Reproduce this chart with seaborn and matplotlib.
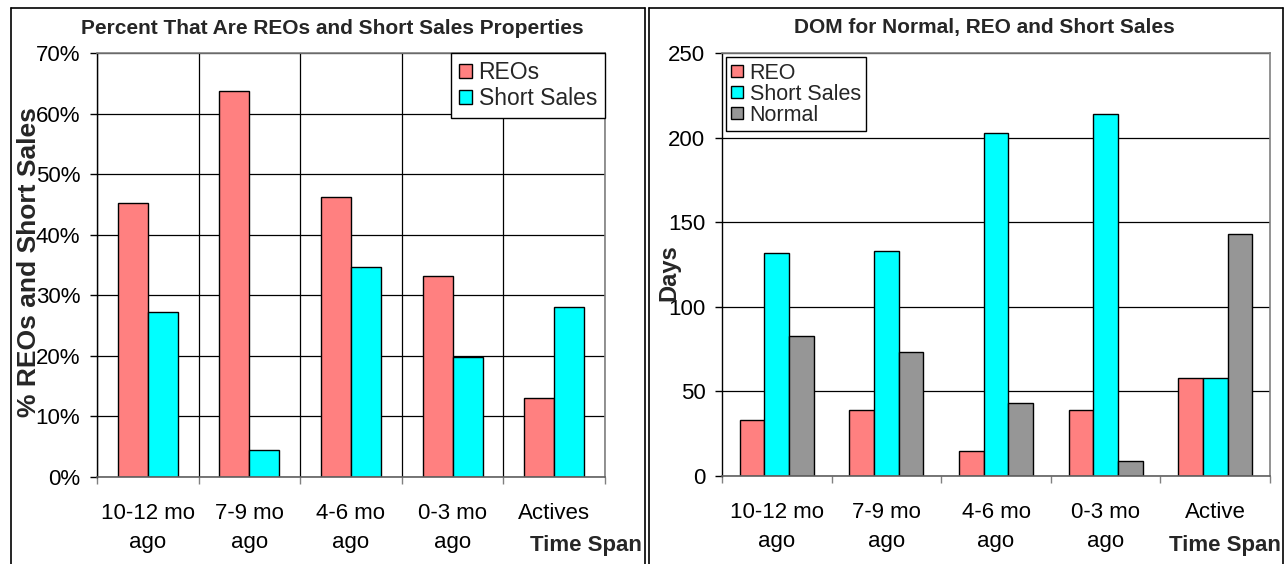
import numpy as np
import pandas as pd
import matplotlib
matplotlib.use("Agg")
import matplotlib.pyplot as plt
import seaborn as sns
from matplotlib.lines import Line2D

# ---------------- data ----------------
categories_left = ["10-12 mo\nago", "7-9 mo\nago", "4-6 mo\nago", "0-3 mo\nago", "Actives"]
categories_right = ["10-12 mo\nago", "7-9 mo\nago", "4-6 mo\nago", "0-3 mo\nago", "Active"]

pct_reo = [45.3, 63.8, 46.2, 33.2, 13.0]
pct_short = [27.3, 4.5, 34.7, 19.8, 28.0]

dom_reo = [33, 39, 15, 39, 58]
dom_short = [132, 133, 203, 214, 58]
dom_normal = [83, 73, 43, 9, 143]

left_series = ["REOs", "Short Sales"]
right_series = ["REO", "Short Sales", "Normal"]

left_yticks = [0, 10, 20, 30, 40, 50, 60, 70]
left_yticklabels = ["0%", "10%", "20%", "30%", "40%", "50%", "60%", "70%"]
right_yticks = [0, 50, 100, 150, 200, 250]
right_yticklabels = ["0", "50", "100", "150", "200", "250"]

# ---------------- style ----------------
sns.set_theme(style="white")
plt.rcParams['font.family'] = ['Liberation Sans', 'DejaVu Sans']

W, H = 1288, 564
fig = plt.figure(figsize=(W / 100, H / 100), dpi=100)


def fx(px):
    return px / W


def fy(py):
    return 1 - py / H


TICK_FS = 16
ax1 = fig.add_axes([fx(97), fy(477), fx(605) - fx(97), fy(53) - fy(477)])
ax2 = fig.add_axes([fx(722), fy(476), fx(1270) - fx(722), fy(53) - fy(476)])

df_left = pd.DataFrame({
    "Time Span": categories_left * 2,
    "Series": [left_series[0]] * 5 + [left_series[1]] * 5,
    "Value": pct_reo + pct_short,
})
df_right = pd.DataFrame({
    "Time Span": categories_right * 3,
    "Series": [right_series[0]] * 5 + [right_series[1]] * 5 + [right_series[2]] * 5,
    "Value": dom_reo + dom_short + dom_normal,
})

pal_left = {"REOs": "#FF8080", "Short Sales": "#00FFFF"}
pal_right = {"REO": "#FF8080", "Short Sales": "#00FFFF", "Normal": "#969696"}

sns.barplot(data=df_left, x="Time Span", y="Value", hue="Series", palette=pal_left,
            width=0.59, saturation=1, edgecolor="black", linewidth=1.0, ax=ax1)
sns.barplot(data=df_right, x="Time Span", y="Value", hue="Series", palette=pal_right,
            width=0.675, saturation=1, edgecolor="black", linewidth=1.0, ax=ax2)


def style_axis(ax, cats, yticks, ylabels, ylim, vgrid):
    ax.set_xlim(-0.5, len(cats) - 0.5)
    ax.set_ylim(*ylim)
    ax.set_xlabel("")
    ax.set_ylabel("")
    ax.set_xticks(np.arange(-0.5, len(cats), 1.0))
    ax.set_xticklabels([])
    ax.set_xticks(np.arange(len(cats)), minor=True)
    ax.set_xticklabels(cats, minor=True, fontsize=TICK_FS, linespacing=1.45)
    ax.set_yticks(yticks)
    ax.set_yticklabels(ylabels, fontsize=TICK_FS)
    ax.tick_params(axis="x", which="major", bottom=True, length=5, width=1.0,
                   color="#808080", direction="out")
    ax.tick_params(axis="x", which="minor", bottom=True, length=0, pad=19, colors="black")
    ax.tick_params(axis="y", which="major", left=True, length=5, width=1.0,
                   color="black", direction="out", pad=7, labelcolor="black")
    ax.yaxis.grid(True, color="black", linewidth=0.9)
    if vgrid:
        ax.xaxis.grid(True, which="major", color="black", linewidth=0.9)
    ax.set_axisbelow(True)
    for s in ["top", "right"]:
        ax.spines[s].set_visible(True)
        ax.spines[s].set_color("#808080")
        ax.spines[s].set_linewidth(1.2)
    ax.spines["left"].set_color("black")
    ax.spines["left"].set_linewidth(1.0)
    ax.spines["bottom"].set_color("#606060")
    ax.spines["bottom"].set_linewidth(1.2)
    ax.set_facecolor("white")


style_axis(ax1, categories_left, left_yticks, left_yticklabels, (0, 70), True)
style_axis(ax2, categories_right, right_yticks, right_yticklabels, (0, 250), False)

h1, l1 = ax1.get_legend_handles_labels()
ax1.legend(h1, l1, loc="upper right", bbox_to_anchor=(1.0, 1.0), borderaxespad=0,
           fontsize=16.5, frameon=True, fancybox=False, framealpha=1,
           edgecolor="black", handlelength=0.55, handleheight=0.55,
           handletextpad=0.3, labelspacing=0.12, borderpad=0.35)
ax1.get_legend().get_frame().set_linewidth(1.0)

h2, l2 = ax2.get_legend_handles_labels()
ax2.legend(h2, l2, loc="upper left", bbox_to_anchor=(0.007, 0.99), borderaxespad=0,
           fontsize=15.5, frameon=True, fancybox=False, framealpha=1,
           edgecolor="black", handlelength=0.55, handleheight=0.55,
           handletextpad=0.3, labelspacing=0.0, borderpad=0.25)
ax2.get_legend().get_frame().set_linewidth(1.0)

# ---------------- titles & labels ----------------
fig.text(fx(332), fy(28), "Percent That Are REOs and Short Sales Properties",
         ha="center", va="center", fontsize=15, fontweight="bold")
fig.text(fx(984), fy(28), "DOM for Normal, REO and Short Sales",
         ha="center", va="center", fontsize=15, fontweight="bold")
fig.text(fx(29), fy(262), "% REOs and Short Sales", rotation=90,
         ha="center", va="center", fontsize=19, fontweight="bold")
fig.text(fx(669), fy(273), "Days", rotation=90,
         ha="center", va="center", fontsize=17, fontweight="bold")
fig.text(fx(642), fy(546), "Time Span", ha="right", va="center",
         fontsize=16, fontweight="bold")
fig.text(fx(1281), fy(546), "Time Span", ha="right", va="center",
         fontsize=16, fontweight="bold")

# ---------------- panel borders ----------------
for (x0, x1) in [(11, 645), (649, 1283)]:
    fig.add_artist(Line2D([fx(x0), fx(x0)], [fy(8), fy(566)], color="black", lw=1.2,
                          transform=fig.transFigure))
    fig.add_artist(Line2D([fx(x1), fx(x1)], [fy(8), fy(566)], color="black", lw=1.2,
                          transform=fig.transFigure))
    fig.add_artist(Line2D([fx(x0), fx(x1)], [fy(8), fy(8)], color="black", lw=1.2,
                          transform=fig.transFigure))

fig.savefig("out.png", dpi=100, facecolor="white")
